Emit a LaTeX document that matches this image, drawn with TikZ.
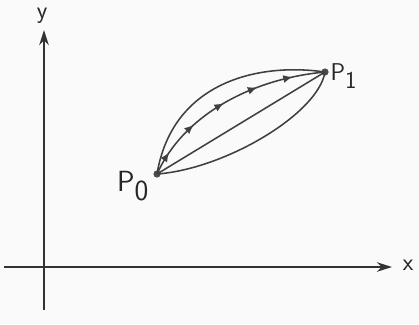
\documentclass[tikz,border=0pt]{standalone}
\usepackage{tikz}
\usetikzlibrary{arrows.meta, decorations.markings}

\begin{document}
\begin{tikzpicture}[
    x=0.025cm, y=0.025cm,
    axis/.style={line width=1.4pt, draw=black!80, -{Stealth[length=3.8mm, width=2.4mm]}},
    pathline/.style={line width=1.1pt, draw=black!75},
    dot/.style={circle, fill=black!70, inner sep=0pt, minimum size=0.18cm},
    lbl/.style={font=\sffamily\LARGE, text=black!85},
    flow/.style={pathline, postaction={decorate}, decoration={markings,
        mark=between positions 0.12 and 0.9 step 0.18 with {\arrow{Latex[length=2.3mm, width=2mm]}}}}
]

% Hintergrund
\fill[black!2] (0,0) rectangle (419,324);

% Achsen
\coordinate (ybot) at (44,14);
\coordinate (ytop) at (44,294);
\coordinate (xbeg) at (4,57);
\coordinate (xend) at (392,57);
\draw[axis] (ybot) -- (ytop);
\draw[axis] (xbeg) -- (xend);
\node[lbl] (ylab) at (42,308) {y};
\node[lbl] (xlab) at (408,59) {x};

% Punkte
\node[dot] (p0) at (157,150) {};
\node[dot] (p1) at (325,252) {};
\node[lbl, font=\sffamily\huge] (p0lab) at (133,138) {P$_{\textsf{0}}$};
\node[lbl] (p1lab) at (344,248) {P$_{\textsf{1}}$};

% Wege
\draw[pathline] (p0.center) .. controls (172,240) and (255,262) .. (p1.center);
\draw[flow] (p0.center) .. controls (183,208) and (250,245) .. (p1.center);
\draw[pathline] (p0.center) -- (p1.center);
\draw[pathline] (p0.center) .. controls (225,155) and (318,210) .. (p1.center);

\end{tikzpicture}
\end{document}
